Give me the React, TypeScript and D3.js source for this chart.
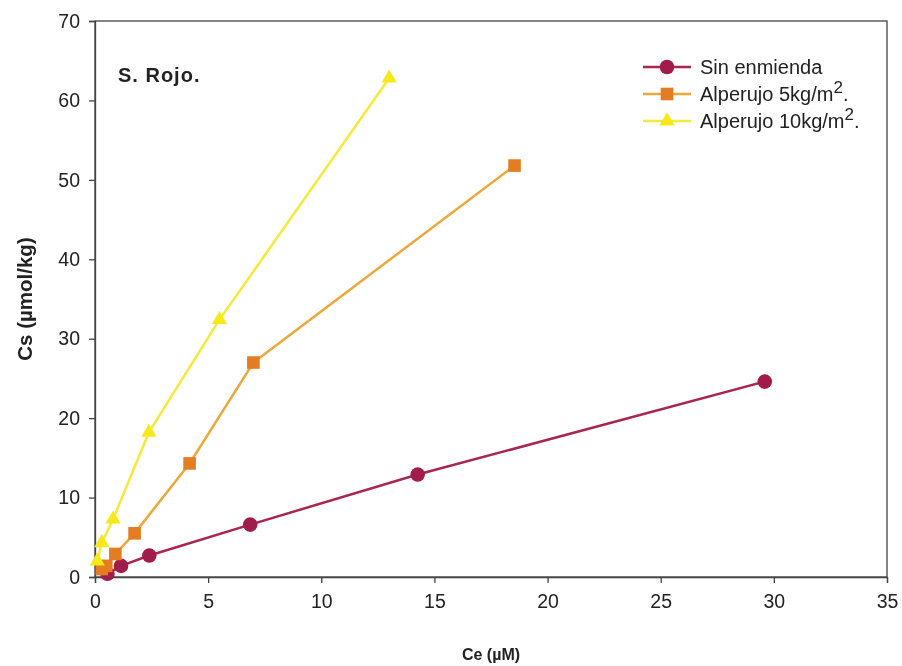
import { useEffect, useRef } from 'react'
import * as d3 from 'd3'

const xTicks = [0, 5, 10, 15, 20, 25, 30, 35]
const yTicks = [0, 10, 20, 30, 40, 50, 60, 70]

const sinEnmienda = [
  [0.55, 0.4], [1.15, 1.4], [2.4, 2.7], [6.86, 6.6], [14.26, 12.9], [29.6, 24.6]
]
const alperujo5 = [
  [0.3, 1.0], [0.5, 1.4], [0.9, 2.9], [1.75, 5.5], [4.18, 14.3], [7.0, 27.0], [18.54, 51.8]
]
const alperujo10 = [
  [0.1, 2.0], [0.3, 4.3], [0.8, 7.3], [2.38, 18.2], [5.5, 32.4], [13.0, 62.8]
]

const series = [
  { name: 'Sin enmienda', sup: '', data: sinEnmienda, line: '#a8264f', fill: '#a01c4a', marker: 'circle' },
  { name: 'Alperujo 5kg/m', sup: '2', data: alperujo5, line: '#eca83a', fill: '#e47c22', marker: 'square' },
  { name: 'Alperujo 10kg/m', sup: '2', data: alperujo10, line: '#f5ea3a', fill: '#f7e81a', marker: 'triangle' }
]

export default function App() {
  const svgRef = useRef<SVGSVGElement>(null)

  useEffect(() => {
    const width = 902
    const height = 666
    const margin = { top: 21, right: 15, bottom: 89, left: 95 }
    const font = 'Liberation Sans, Arial, sans-serif'

    const svg = d3.select(svgRef.current)
      .attr('width', width)
      .attr('height', height)
    svg.selectAll('*').remove()

    const x = d3.scaleLinear().domain([0, 35]).range([margin.left, width - margin.right])
    const y = d3.scaleLinear().domain([0, 70]).range([height - margin.bottom, margin.top])

    const g = svg.append('g')

    // frame
    g.append('rect')
      .attr('x', margin.left)
      .attr('y', margin.top)
      .attr('width', width - margin.left - margin.right)
      .attr('height', height - margin.top - margin.bottom)
      .attr('fill', 'none')
      .attr('stroke', '#444')
      .attr('stroke-width', 1.3)

    const xAxis = g.append('g')
      .attr('transform', `translate(0,${height - margin.bottom})`)
      .call(d3.axisBottom(x).tickValues(xTicks).tickSize(6).tickPadding(11))
    const yAxis = g.append('g')
      .attr('transform', `translate(${margin.left},0)`)
      .call(d3.axisLeft(y).tickValues(yTicks).tickSize(6).tickPadding(9))

    ;[xAxis, yAxis].forEach(a => {
      a.attr('font-size', null).attr('font-family', null)
      a.select('.domain').attr('stroke', '#444').attr('stroke-width', 1.3)
      a.selectAll('line').attr('stroke', '#444').attr('stroke-width', 1.3)
      a.selectAll('text')
        .style('font-family', font)
        .style('font-size', '19.5px')
        .attr('fill', '#222')
    })

    // axis titles
    g.append('text')
      .attr('x', (margin.left + width - margin.right) / 2)
      .attr('y', 660)
      .attr('text-anchor', 'middle')
      .style('font-family', font)
      .style('font-size', '16px')
      .attr('font-weight', 'bold')
      .attr('fill', '#222')
      .text('Ce (µM)')

    g.append('text')
      .attr('transform', `translate(32,${(margin.top + height - margin.bottom) / 2}) rotate(-90)`)
      .attr('text-anchor', 'middle')
      .style('font-family', font)
      .style('font-size', '20.5px')
      .attr('font-weight', 'bold')
      .attr('fill', '#222')
      .text('Cs (µmol/kg)')

    g.append('text')
      .attr('x', 118)
      .attr('y', 82)
      .style('font-family', font)
      .style('font-size', '20px')
      .style('letter-spacing', '1px')
      .attr('font-weight', 'bold')
      .attr('fill', '#222')
      .text('S. Rojo.')

    const line = d3.line<number[]>().x(d => x(d[0])).y(d => y(d[1]))
    const tri = d3.symbol().type(d3.symbolTriangle).size(100)

    const drawMarker = (sel: any, s: any, cx: number, cy: number) => {
      if (s.marker === 'circle') {
        sel.append('circle').attr('cx', cx).attr('cy', cy).attr('r', 7.3)
          .attr('fill', s.fill)
      } else if (s.marker === 'square') {
        sel.append('rect').attr('x', cx - 6.3).attr('y', cy - 6.3).attr('width', 12.6).attr('height', 12.6)
          .attr('fill', s.fill)
      } else {
        sel.append('path').attr('d', tri).attr('transform', `translate(${cx},${cy})`)
          .attr('fill', s.fill)
      }
    }

    series.forEach(s => {
      g.append('path')
        .datum(s.data)
        .attr('d', line)
        .attr('fill', 'none')
        .attr('stroke', s.line)
        .attr('stroke-width', 2.5)
      const mg = g.append('g')
      s.data.forEach(d => drawMarker(mg, s, x(d[0]), y(d[1])))
    })

    // legend
    const lg = g.append('g')
    series.forEach((s, i) => {
      const ly = 67 + i * 27
      lg.append('line')
        .attr('x1', 643).attr('x2', 691).attr('y1', ly).attr('y2', ly)
        .attr('stroke', s.line).attr('stroke-width', 2.5)
      drawMarker(lg, s, 667, ly)
      const t = lg.append('text')
        .attr('x', 700)
        .attr('y', ly + 7)
        .style('font-family', font)
        .style('font-size', '20px')
        .attr('fill', '#222')
      t.append('tspan').text(s.name)
      if (s.sup) {
        t.append('tspan').attr('dy', -8).style('font-size', '17px').text(s.sup)
        t.append('tspan').attr('dy', 8).text('.')
      }
    })
  }, [])

  return (
    <div style={{ position: 'fixed', left: 0, top: 0 }}>
      <svg ref={svgRef} style={{ display: 'block' }}></svg>
    </div>
  )
}
